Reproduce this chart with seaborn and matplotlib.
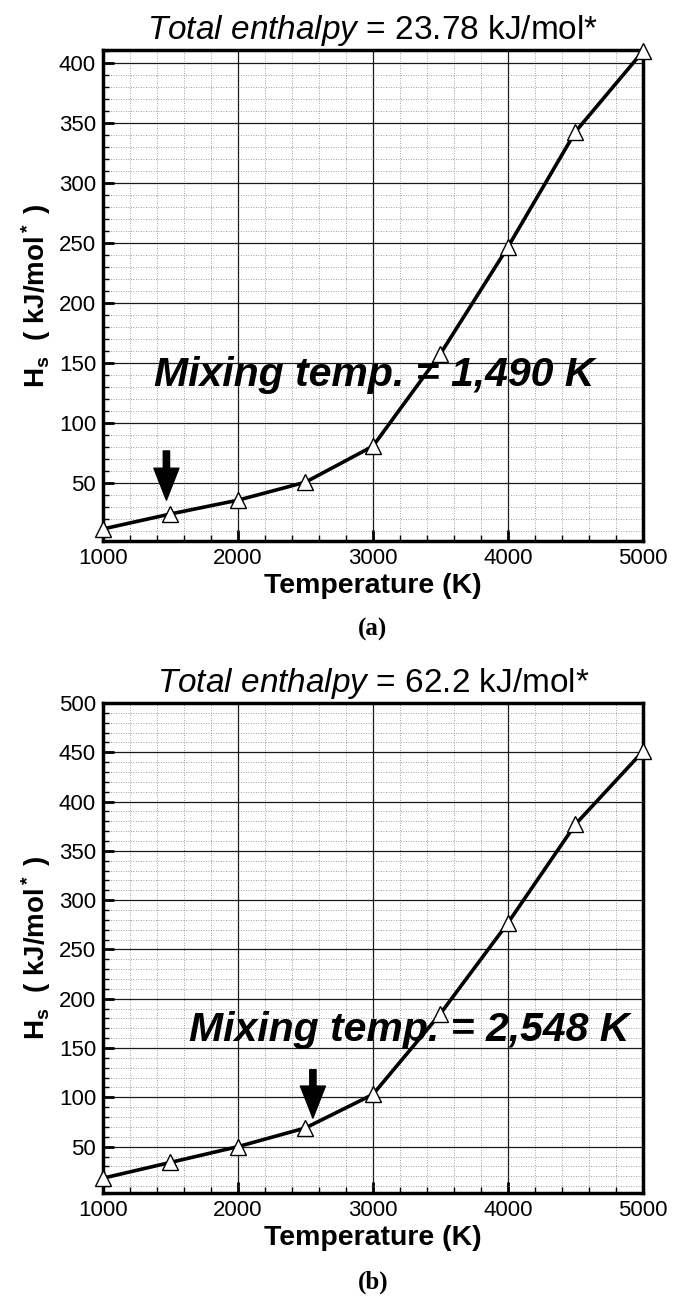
import numpy as np
import pandas as pd
import matplotlib
matplotlib.use('Agg')
import matplotlib.pyplot as plt
from matplotlib.ticker import MultipleLocator
import seaborn as sns

# Data
temperature = [1000, 1500, 2000, 2500, 3000, 3500, 4000, 4500, 5000]
hs_a = [12, 24.5, 36, 51, 81, 158, 247, 343, 410]
hs_b = [18, 34, 50, 69, 103, 185, 277, 377, 451]

total_enthalpy = ['23.78', '62.2']
mixing_text = ['1,490', '2,548']
mixing_temp = [1470, 2555]
panel_names = ['(a)', '(b)']

sns.set_style('ticks')
plt.rcParams['font.family'] = ['Liberation Sans', 'DejaVu Sans']
plt.rcParams['text.color'] = 'black'
plt.rcParams['axes.labelcolor'] = 'black'
plt.rcParams['xtick.color'] = 'black'
plt.rcParams['ytick.color'] = 'black'
plt.rcParams['mathtext.fontset'] = 'custom'
plt.rcParams['mathtext.rm'] = 'Liberation Sans'
plt.rcParams['mathtext.it'] = 'Liberation Sans:italic'
plt.rcParams['mathtext.bf'] = 'Liberation Sans:bold'

fig = plt.figure(figsize=(6.81, 12.97), dpi=100)
ax_a = fig.add_axes([0.1512, 0.5829, 0.793, 0.3785])
ax_b = fig.add_axes([0.1512, 0.0802, 0.793, 0.3778])

panels = [
    (ax_a, hs_a, (2, 411), (36, 77), (140, 3010)),
    (ax_b, hs_b, (3, 500), (79, 128), (168, 3270)),
]

for i, (ax, hs, ylim, arrow_y, text_pos) in enumerate(panels):
    df = pd.DataFrame({'T': temperature, 'H': hs})
    sns.lineplot(data=df, x='T', y='H', ax=ax, color='black', lw=2.6,
                 marker='^', markersize=11.5, markerfacecolor='white',
                 markeredgecolor='black', markeredgewidth=1.0,
                 clip_on=False, zorder=5)

    ax.set_xlim(1000, 5000)
    ax.set_ylim(*ylim)
    ax.xaxis.set_major_locator(MultipleLocator(1000))
    ax.xaxis.set_minor_locator(MultipleLocator(200))
    ax.yaxis.set_major_locator(MultipleLocator(50))
    ax.yaxis.set_minor_locator(MultipleLocator(10))

    ax.grid(which='major', color='#1a1a1a', lw=0.9, ls='-')
    ax.grid(which='minor', color='#808080', lw=0.6, ls=(0, (1, 2)))
    ax.set_axisbelow(True)

    ax.tick_params(which='major', direction='in', length=8, width=2,
                   labelsize=16, pad=5)
    ax.tick_params(which='minor', direction='in', length=4, width=1)
    for s in ax.spines.values():
        s.set_linewidth(2.5)
        s.set_color('black')

    ax.set_xlabel('Temperature (K)', fontsize=20.5, fontweight='bold', labelpad=3)
    ax.set_ylabel(r'$\mathbf{H_s\ \ (\ kJ/mol^*\ )}$', fontsize=20, labelpad=4)

    ax.set_title(r'$\mathit{Total\ enthalpy}$ = ' + total_enthalpy[i] + ' kJ/mol*',
                 fontsize=24, pad=8)

    ax.text(text_pos[1], text_pos[0], 'Mixing temp. = ' + mixing_text[i] + ' K',
            ha='center', va='center', fontsize=29.5, fontweight='bold',
            style='italic', zorder=6)

    ax.annotate('', xy=(mixing_temp[i], arrow_y[0]), xytext=(mixing_temp[i], arrow_y[1]),
                arrowprops=dict(facecolor='black', edgecolor='black', width=4.5,
                                headwidth=18, headlength=23, shrink=0), zorder=7)

fig.text(0.5477, 0.5143, panel_names[0], ha='center', va='center', fontsize=18,
         fontweight='bold', family='Liberation Serif')
fig.text(0.5477, 0.0116, panel_names[1], ha='center', va='center', fontsize=18,
         fontweight='bold', family='Liberation Serif')

fig.savefig('out.png', dpi=100)
